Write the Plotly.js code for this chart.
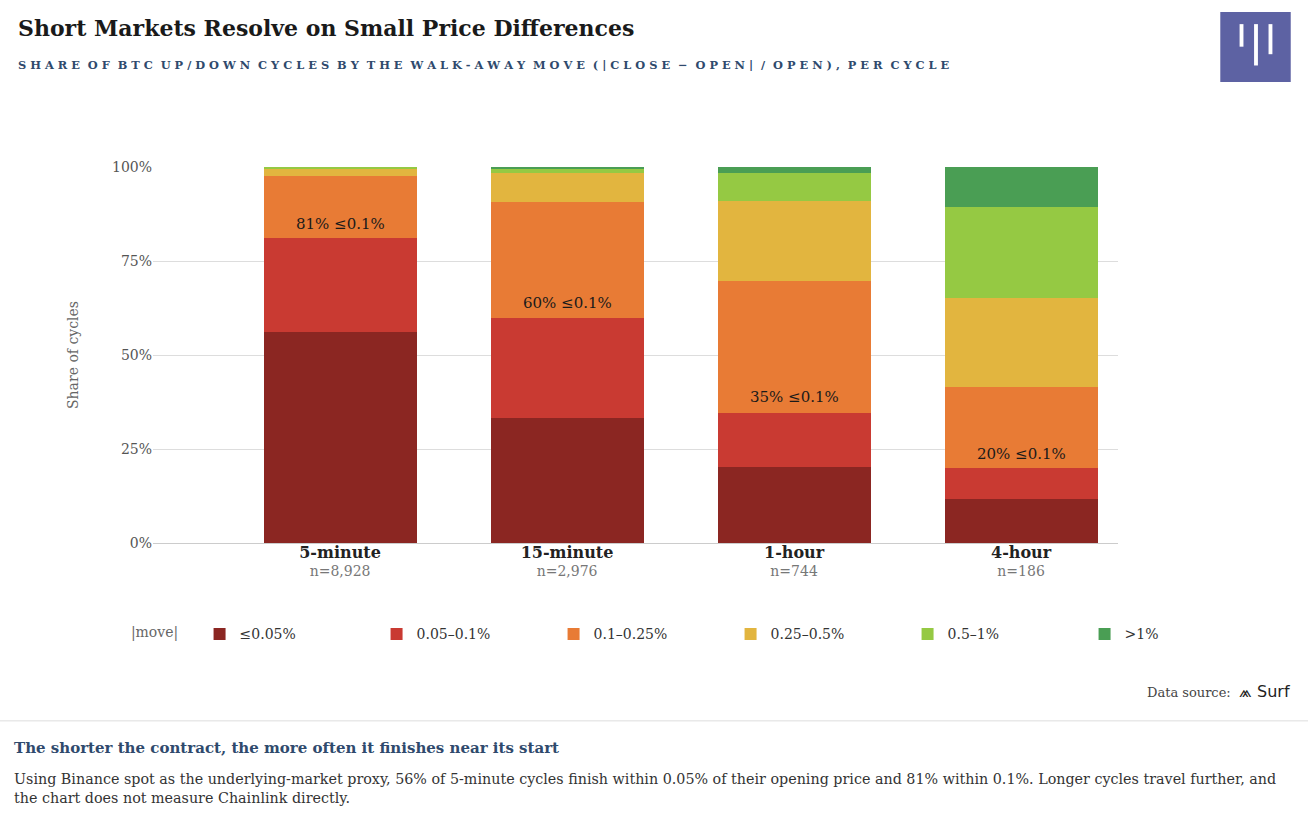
<!DOCTYPE html>
<html>
<head>
<meta charset="utf-8">
<script src="https://cdn.plot.ly/plotly-3.0.1.min.js"></script>
<style>
  body { margin: 0; background: #fff; }
  #chart { width: 1308px; height: 828px; }
</style>
</head>
<body>
<div id="chart"></div>
<script>
// cycle lengths and counts
const cycles = ["5-minute", "15-minute", "1-hour", "4-hour"];
const counts = ["8,928", "2,976", "744", "186"];
// share (%) in each move bucket
const bucketNames = ["≤0.05%", "0.05–0.1%", "0.1–0.25%", "0.25–0.5%", "0.5–1%", ">1%"];
const le005 = [56.0, 33.2, 20.2, 11.7];
const b005_01 = [25.0, 26.6, 14.4, 8.2];
const b01_025 = [16.6, 30.9, 35.1, 21.6];
const b025_05 = [1.9, 7.7, 21.3, 23.7];
const b05_1 = [0.5, 1.1, 7.4, 24.2];
const gt1 = [0.0, 0.5, 1.6, 10.6];
const within01 = [81, 60, 35, 20];

const colors = ["#8b2622", "#c93a32", "#e87b35", "#e2b53f", "#95c943", "#4a9e54"];
const series = [le005, b005_01, b01_025, b025_05, b05_1, gt1];

const data = series.map((vals, i) => ({
  type: "bar",
  name: bucketNames[i],
  x: [0, 1, 2, 3],
  y: vals,
  marker: { color: colors[i] },
  hoverinfo: "none"
}));

const tickText = cycles.map((c, i) =>
  "<span style='font-size:16px;color:#222'><b>" + c + "</b></span><br><span style='color:#777'>n=" + counts[i] + "</span>");

const annotations = cycles.map((c, i) => ({
  x: i, y: within01[i], yanchor: "bottom", yshift: 3, showarrow: false,
  text: within01[i] + "% ≤0.1%",
  font: { family: "DejaVu Serif", size: 15, color: "#1a1a1a" }
}));

annotations.push(
  { xref: "paper", yref: "paper", x: -0.142, y: 1.37, xanchor: "left", yanchor: "middle", showarrow: false,
    text: "<b>Short Markets Resolve on Small Price Differences</b>",
    font: { family: "DejaVu Serif", size: 22, color: "#1a1a1a" } },
  { xref: "paper", yref: "paper", x: -0.142, y: 1.271, xanchor: "left", yanchor: "middle", showarrow: false,
    text: "<b>S H A R E  O F  B T C  U P / D O W N  C Y C L E S  B Y  T H E  W A L K - A W A Y  M O V E  ( | C L O S E  −  O P E N |  /  O P E N ) ,  P E R  C Y C L E</b>",
    font: { family: "DejaVu Serif", size: 11.4, color: "#2f4a6d" } },
  { xref: "paper", yref: "paper", x: 1.18, y: -0.394, xanchor: "right", yanchor: "middle", showarrow: false,
    text: "Data source:  <span style='font-family:DejaVu Sans;font-size:16px;color:#222'>⩕ Surf</span>",
    font: { family: "DejaVu Serif", size: 13, color: "#444" } },
  { xref: "paper", yref: "paper", x: -0.146, y: -0.545, xanchor: "left", yanchor: "middle", showarrow: false,
    text: "<b>The shorter the contract, the more often it finishes near its start</b>",
    font: { family: "DejaVu Serif", size: 15, color: "#2f4a6d" } },
  { xref: "paper", yref: "paper", x: -0.146, y: -0.652, xanchor: "left", yanchor: "middle", showarrow: false, align: "left",
    text: "Using Binance spot as the underlying-market proxy, 56% of 5-minute cycles finish within 0.05% of their opening price and 81% within 0.1%. Longer cycles travel further, and<br>the chart does not measure Chainlink directly.",
    font: { family: "DejaVu Serif", size: 14.3, color: "#333" } }
);

const layout = {
  barmode: "stack",
  bargap: 0.326,
  width: 1308, height: 828,
  margin: { l: 153, r: 190, t: 167, b: 285 },
  paper_bgcolor: "#fff", plot_bgcolor: "#fff",
  font: { family: "DejaVu Serif", color: "#555", size: 14 },
  showlegend: true,
  legend: {
    orientation: "h", x: -0.025, y: -0.243, xanchor: "left", yanchor: "middle",
    title: { text: "|move|   ", font: { size: 14, color: "#666" } },
    font: { size: 14, color: "#333" },
    traceorder: "normal", entrywidth: 132
  },
  xaxis: { range: [-0.824, 3.427], tickvals: [0, 1, 2, 3], ticktext: tickText, showline: false, ticks: "" },
  yaxis: {
    range: [0, 100], tickvals: [0, 25, 50, 75, 100],
    ticktext: ["0%", "25%", "50%", "75%", "100%"],
    gridcolor: "#ddd", zeroline: true, zerolinecolor: "#ccc",
    title: { text: "Share of cycles", font: { size: 14, color: "#666" }, standoff: 30 }
  },
  annotations: annotations,
  shapes: [
    { type: "line", xref: "paper", yref: "paper", x0: -0.2, x1: 1.3, y0: -0.473, y1: -0.473,
      line: { color: "#ddd", width: 1 } },
    { type: "rect", xref: "paper", yref: "paper", x0: 1.106, x1: 1.179, y0: 1.226, y1: 1.412,
      fillcolor: "#5d62a3", line: { width: 0 } },
    { type: "rect", xref: "paper", yref: "paper", x0: 1.126, x1: 1.13, y0: 1.32, y1: 1.38,
      fillcolor: "#fff", line: { width: 0 } },
    { type: "rect", xref: "paper", yref: "paper", x0: 1.141, x1: 1.145, y0: 1.27, y1: 1.38,
      fillcolor: "#fff", line: { width: 0 } },
    { type: "rect", xref: "paper", yref: "paper", x0: 1.156, x1: 1.16, y0: 1.3, y1: 1.38,
      fillcolor: "#fff", line: { width: 0 } }
  ]
};

Plotly.newPlot("chart", data, layout, { displayModeBar: false });
</script>
</body>
</html>
